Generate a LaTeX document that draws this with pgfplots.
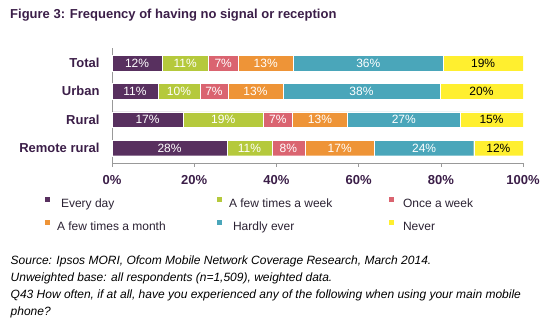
\documentclass[border=0pt]{standalone}
\usepackage{pgfplots}
\pgfplotsset{compat=1.18}
\usepackage{pgfplotstable}
\usepackage{fontspec}
\setmainfont{Liberation Sans}
\definecolor{cA}{HTML}{58305F}
\definecolor{cB}{HTML}{B5C93C}
\definecolor{cC}{HTML}{DA6470}
\definecolor{cD}{HTML}{EE9437}
\definecolor{cE}{HTML}{4AA6BA}
\definecolor{cF}{HTML}{FFEF2F}
\definecolor{cText}{HTML}{3B1E48}
\definecolor{cLeg}{HTML}{2B2233}
\pgfplotstableread{
idx a b c d e f la lb lc ld le lf
0 12.2 11.2 7.3 13.4 36.5 19.4 12 11 7 13 36 19
1 11.2 10.2 6.8 13.4 38.2 20.2 11 10 7 13 38 20
2 17.3 19.5 7.1 13.4 27.4 15.3 17 19 7 13 27 15
3 28.0 10.9 8.0 17.0 24.1 12.0 28 11 8 17 24 12
}\data
\begin{document}
\begin{tikzpicture}
\path[use as bounding box] (0pt,0pt) rectangle (548pt,321pt);
\node[anchor=west, inner sep=0pt, font=\fontsize{13}{15}\selectfont\bfseries, text=cText] at (10pt,306pt) {Figure 3: Frequency of having no signal or reception};
\begin{axis}[
  at={(112pt,158pt)}, anchor=south west,
  scale only axis, width=411pt, height=115pt,
  xbar stacked, bar width=15.5pt,
  xmin=0, xmax=100, ymin=-0.53, ymax=3.53,
  axis x line*=bottom, axis y line*=left,
  axis line style={draw=black!40, line width=0.6pt},
  xtick={0,20,40,60,80,100},
  xtick align=outside, major tick length=4pt,
  x tick style={draw=black!40, line width=0.6pt},
  xticklabel={\pgfmathprintnumber{\tick}\%},
  ytick={0,1,2,3}, yticklabels={Remote rural,Rural,Urban,Total},
  y tick style={draw=none},
  tick label style={font=\fontsize{13}{15}\selectfont\bfseries, text=cText},
  xticklabel style={yshift=-4.5pt},
  yticklabel style={xshift=-9pt},
  /pgf/number format/assume math mode=true,
  legend columns=3,
  legend style={at={(-0.163,-0.296)}, anchor=north west, draw=none, fill=none, inner sep=0pt, outer sep=0pt, column sep=0pt, row sep=11.5pt, font=\fontsize{12}{14}\selectfont, text=cLeg, nodes={inner sep=0pt}},
  legend cell align=left,
  legend image code/.code={\path[draw=none,fill=none] (0pt,-3pt) rectangle (5pt,6.8pt); \fill[#1,draw=none] (0pt,1.8pt) rectangle (5pt,6.8pt);},
]
\addplot[fill=cA, draw=white, line width=0.3pt] table[x=a, y expr=3-\coordindex]{\data};
\addlegendentry{\makebox[167pt][l]{\hspace{11pt}Every day}}
\addplot[fill=cB, draw=white, line width=0.3pt] table[x=b, y expr=3-\coordindex]{\data};
\addlegendentry{\makebox[167pt][l]{\hspace{7pt}A few times a week}}
\addplot[fill=cC, draw=white, line width=0.3pt] table[x=c, y expr=3-\coordindex]{\data};
\addlegendentry{\hspace{9pt}Once a week}
\addplot[fill=cD, draw=white, line width=0.3pt] table[x=d, y expr=3-\coordindex]{\data};
\addlegendentry{\makebox[167pt][l]{\hspace{7pt}A few times a month}}
\addplot[fill=cE, draw=white, line width=0.3pt] table[x=e, y expr=3-\coordindex]{\data};
\addlegendentry{\makebox[167pt][l]{\hspace{11pt}Hardly ever}}
\addplot[fill=cF, draw=white, line width=0.3pt] table[x=f, y expr=3-\coordindex]{\data};
\addlegendentry{\hspace{9pt}Never}
\end{axis}
\begin{axis}[
  at={(112pt,158pt)}, anchor=south west,
  scale only axis, width=411pt, height=115pt,
  xmin=0, xmax=100, ymin=-0.53, ymax=3.53, hide axis,
  point meta=explicit symbolic,
  nodes near coords={\pgfplotspointmeta\%},
  nodes near coords align={center},
  nodes near coords style={anchor=center, font=\fontsize{12}{14}\selectfont, text=white},
]
\addplot[only marks, mark=*, mark size=0pt, mark options={draw=none,fill=none}] table[x expr=\thisrow{a}/2, y expr=3-\coordindex, meta=la]{\data};
\addplot[only marks, mark=*, mark size=0pt, mark options={draw=none,fill=none}] table[x expr=\thisrow{a}+\thisrow{b}/2, y expr=3-\coordindex, meta=lb]{\data};
\addplot[only marks, mark=*, mark size=0pt, mark options={draw=none,fill=none}] table[x expr=\thisrow{a}+\thisrow{b}+\thisrow{c}/2, y expr=3-\coordindex, meta=lc]{\data};
\addplot[only marks, mark=*, mark size=0pt, mark options={draw=none,fill=none}] table[x expr=\thisrow{a}+\thisrow{b}+\thisrow{c}+\thisrow{d}/2, y expr=3-\coordindex, meta=ld]{\data};
\addplot[only marks, mark=*, mark size=0pt, mark options={draw=none,fill=none}] table[x expr=\thisrow{a}+\thisrow{b}+\thisrow{c}+\thisrow{d}+\thisrow{e}/2, y expr=3-\coordindex, meta=le]{\data};
\addplot[only marks, mark=*, mark size=0pt, mark options={draw=none,fill=none}, nodes near coords style={text=black}] table[x expr=\thisrow{a}+\thisrow{b}+\thisrow{c}+\thisrow{d}+\thisrow{e}+\thisrow{f}/2, y expr=3-\coordindex, meta=lf]{\data};
\end{axis}
\node[anchor=north west, inner sep=0pt, align=left, font=\fontsize{12}{17}\selectfont\itshape] at (10.5pt,65pt) {Source: Ipsos MORI, Ofcom Mobile Network Coverage Research, March 2014.\\Unweighted base: all respondents (n=1,509), weighted data.\\Q43 How often, if at all, have you experienced any of the following when using your main mobile\\phone?};
\end{tikzpicture}
\end{document}
